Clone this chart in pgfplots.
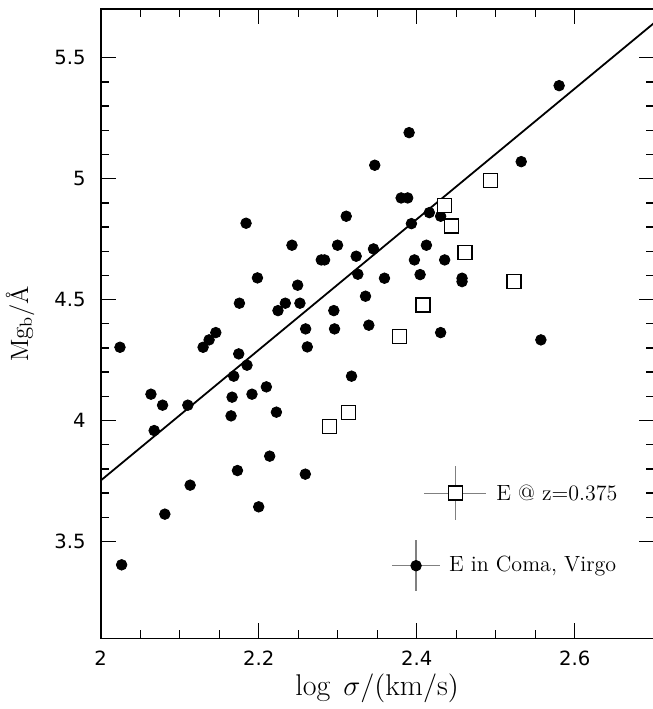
\documentclass[border=0pt]{standalone}
\usepackage{fontspec}
\usepackage{pgfplots}
\pgfplotsset{compat=1.18}
\newfontfamily\tickfont{DejaVu Sans}
\begin{document}
\begin{tikzpicture}
\begin{axis}[
  scale only axis, width=276.5pt, height=314.5pt,
  xmin=2, xmax=2.7, ymin=3.1, ymax=5.7,
  xtick={2,2.2,2.4,2.6}, ytick={3.5,4,4.5,5,5.5},
  minor x tick num=3, minor y tick num=4,
  tick align=inside, tick pos=both,
  major tick length=7.5pt, minor tick length=4pt,
  axis line style={line width=0.8pt},
  every tick/.style={black, line width=0.7pt},
  /pgf/number format/assume math mode=true,
  ticklabel style={font=\tickfont\fontsize{9.8}{11}\selectfont},
  xticklabel style={yshift=-3pt},
  yticklabel style={xshift=-4pt},
  xlabel={$\log\;\sigma/(\mathrm{km/s})$},
  ylabel={Mg\textsubscript{b}/\AA},
  xlabel style={at={(axis description cs:0.5,-0.079)}, anchor=center, font=\fontsize{15}{17}\selectfont},
  ylabel style={at={(axis description cs:-0.1459,0.5)}, anchor=center, font=\fontsize{12.5}{15}\selectfont},
]
\coordinate (sw) at (rel axis cs:0,0);
\coordinate (ne) at (rel axis cs:1,1);
% fit line
\addplot[black, line width=0.9pt] coordinates {(2,3.752) (2.7,5.642)};
% E in Coma, Virgo
\addplot[only marks, mark=*, mark size=2.65pt, black] coordinates {
(2.0244,4.303) (2.0636,4.109) (2.1296,4.303) (2.1372,4.3335) (2.1457,4.3636)
(2.1747,4.2756) (2.1852,4.2289) (2.1684,4.1835) (2.1663,4.0967) (2.1915,4.109)
(2.2097,4.1393) (2.1840,4.8157) (2.1756,4.4851) (2.1984,4.5897) (2.2244,4.4545)
(2.2337,4.4851) (2.2421,4.7248) (2.2493,4.5595) (2.2522,4.4851) (2.2594,4.3789)
(2.2615,4.3045) (2.2792,4.664) (2.2834,4.664) (2.2998,4.7248) (2.2951,4.4545)
(2.2960,4.3789) (2.3108,4.8446) (2.3175,4.1835) (2.3234,4.6793) (2.3255,4.605)
(2.3352,4.514) (2.3394,4.3942) (2.3453,4.7095) (2.3469,5.0554) (2.3592,4.5884)
(2.5803,5.3843) (2.3904,5.1901) (2.5323,5.0702) (2.3803,4.9202) (2.3886,4.9202)
(2.4160,4.8595) (2.4303,4.8446) (2.3933,4.814) (2.4123,4.7248) (2.3971,4.664)
(2.4354,4.664) (2.4043,4.6033) (2.4574,4.5884) (2.4574,4.5744) (2.4303,4.3636)
(2.5572,4.3335) (2.0783,4.0636) (2.1103,4.0636) (2.0677,3.9587) (2.1650,4.0194)
(2.2224,4.0347) (2.2139,3.8529) (2.1731,3.7934) (2.2590,3.7785) (2.1132,3.733)
(2.0812,3.6132) (2.2000,3.6434) (2.0265,3.4037)
};
% E @ z=0.375
\addplot[only marks, mark=square*, mark size=3.5pt, mark options={fill=white, draw=black, line width=0.65pt}] coordinates {
(2.4354,4.8884) (2.4442,4.8045) (2.4611,4.6942) (2.4931,4.9917) (2.5231,4.576)
(2.4081,4.4781) (2.3785,4.3471) (2.3133,4.0347) (2.2893,3.9752)
};
% legend samples
\addplot[only marks, mark=square*, mark size=3.5pt, mark options={fill=white, draw=black, line width=0.65pt},
  error bars/.cd, x dir=both, y dir=both, x explicit, y explicit, error mark=none,
  error bar style={gray, line width=0.6pt}]
  coordinates {(2.4489,3.7) +- (0.0394,0.1116)};
\addplot[only marks, mark=*, mark size=2.65pt, black,
  error bars/.cd, x dir=both, y dir=both, x explicit, y explicit, error mark=none,
  error bar style={gray, line width=0.6pt}]
  coordinates {(2.3992,3.4) +- (0.030,0.105)};
\node[anchor=west, inner sep=0pt, font=\fontsize{11}{13}\selectfont] at (axis cs:2.5003,3.7) {E @ z=0.375};
\node[anchor=west, inner sep=0pt, font=\fontsize{11}{13}\selectfont] at (axis cs:2.4404,3.4) {E in Coma, Virgo};
\end{axis}
\pgfresetboundingbox
\path[use as bounding box] ([xshift=-50.35pt,yshift=-35.35pt]sw) rectangle ([xshift=-0.35pt,yshift=4.65pt]ne);
\end{tikzpicture}
\end{document}
